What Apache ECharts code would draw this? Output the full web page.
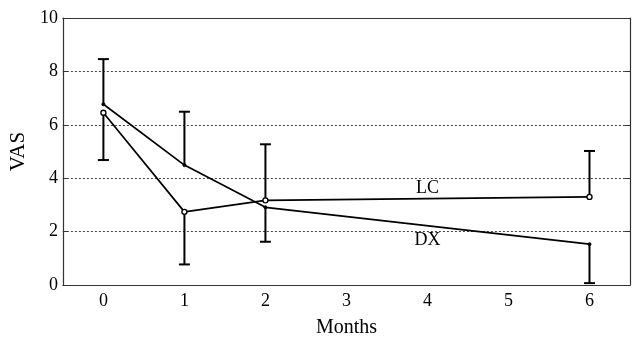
<!DOCTYPE html>
<html>
<head>
<meta charset="utf-8">
<script src="https://cdn.jsdelivr.net/npm/echarts@6/dist/echarts.min.js"></script>
<style>
  html, body { margin: 0; padding: 0; background: #fff; }
  #chart { width: 633px; height: 343px; }
</style>
</head>
<body>
<div id="chart"></div>
<script>
// months on the x axis (categories), only some have data
var months = ['0', '1', '2', '3', '4', '5', '6'];

// mean VAS per group: [monthIndex, value]
var lcMean = [[0, 6.45], [1, 2.74], [2, 3.17], [6, 3.3]];
var dxMean = [[0, 6.77], [1, 4.49], [2, 2.91], [6, 1.53]];

// error bars drawn on one side only: [monthIndex, from, to]
var lcErr = [[0, 6.45, 4.68], [1, 2.74, 0.77], [2, 3.17, 5.27], [6, 3.3, 5.02]];
var dxErr = [[0, 6.77, 8.46], [1, 4.49, 6.49], [2, 2.91, 1.62], [6, 1.53, 0.07]];

// line labels: [monthIndex, y, text]
var lineLabels = [[4.09, 3.63, 'LC'], [4.1, 1.67, 'DX']];

var font = 'Liberation Serif';
var ink = '#000';

function errorBars(params, api) {
  var x = api.value(0);
  var a = api.coord([x, api.value(1)]);
  var b = api.coord([x, api.value(2)]);
  var cap = 5.5;
  var st = { stroke: ink, lineWidth: 2 };
  return {
    type: 'group',
    children: [
      { type: 'line', shape: { x1: a[0], y1: a[1], x2: b[0], y2: b[1] }, style: st },
      { type: 'line', shape: { x1: b[0] - cap, y1: b[1], x2: b[0] + cap, y2: b[1] }, style: st }
    ]
  };
}

var chart = echarts.init(document.getElementById('chart'));
chart.setOption({
  animation: false,
  grid: { left: 62, right: 3, top: 18, bottom: 55 },
  xAxis: [{
    type: 'category',
    data: months,
    boundaryGap: true,
    name: 'Months',
    nameLocation: 'middle',
    nameGap: 33,
    nameTextStyle: { fontFamily: font, fontSize: 20, color: ink },
    axisLine: { onZero: false, lineStyle: { color: '#333', width: 1.2 } },
    axisTick: { inside: true, alignWithLabel: true, length: 5, lineStyle: { color: '#333' } },
    axisLabel: { fontFamily: font, fontSize: 18, color: ink, margin: 7 },
    splitLine: { show: false }
  }, {
    type: 'category',
    data: months,
    position: 'top',
    boundaryGap: true,
    axisLine: { onZero: false, lineStyle: { color: '#333', width: 1.2 } },
    axisTick: { inside: true, alignWithLabel: true, length: 5, lineStyle: { color: '#333' } },
    axisLabel: { show: false }
  }],
  yAxis: [{
    type: 'value',
    min: 0,
    max: 10,
    interval: 2,
    name: 'VAS',
    nameLocation: 'middle',
    nameGap: 29,
    nameTextStyle: { fontFamily: font, fontSize: 21, color: ink },
    axisLine: { show: true, onZero: false, lineStyle: { color: '#333', width: 1.2 } },
    axisTick: { show: true, inside: true, length: 5, lineStyle: { color: '#333' } },
    axisLabel: { fontFamily: font, fontSize: 18, color: ink, margin: 5 },
    splitLine: {
      show: true,
      showMinLine: false,
      showMaxLine: false,
      lineStyle: { color: '#444', type: [2, 2], width: 1 }
    }
  }, {
    type: 'value',
    min: 0,
    max: 10,
    interval: 2,
    position: 'right',
    axisLine: { show: true, onZero: false, lineStyle: { color: '#333', width: 1.2 } },
    axisTick: { show: true, inside: true, length: 5, lineStyle: { color: '#333' } },
    axisLabel: { show: false },
    splitLine: { show: false }
  }],
  series: [{
    name: 'LC',
    type: 'line',
    data: lcMean,
    symbol: 'circle',
    symbolSize: 5,
    itemStyle: { color: '#fff', borderColor: ink, borderWidth: 1.4 },
    lineStyle: { color: ink, width: 1.7 },
    z: 3
  }, {
    name: 'DX',
    type: 'line',
    data: dxMean,
    symbol: 'circle',
    symbolSize: 3,
    itemStyle: { color: ink, borderColor: ink },
    lineStyle: { color: ink, width: 1.7 },
    z: 3
  }, {
    type: 'custom',
    data: lcErr,
    renderItem: errorBars,
    z: 2
  }, {
    type: 'custom',
    data: dxErr,
    renderItem: errorBars,
    z: 2
  }, {
    type: 'scatter',
    data: lineLabels,
    symbolSize: 1,
    itemStyle: { opacity: 0 },
    label: {
      show: true,
      position: 'inside',
      formatter: function (p) { return p.value[2]; },
      fontFamily: font,
      fontSize: 18,
      color: ink,
      opacity: 1,
      textBorderWidth: 0
    },
    z: 4
  }]
});
</script>
</body>
</html>
